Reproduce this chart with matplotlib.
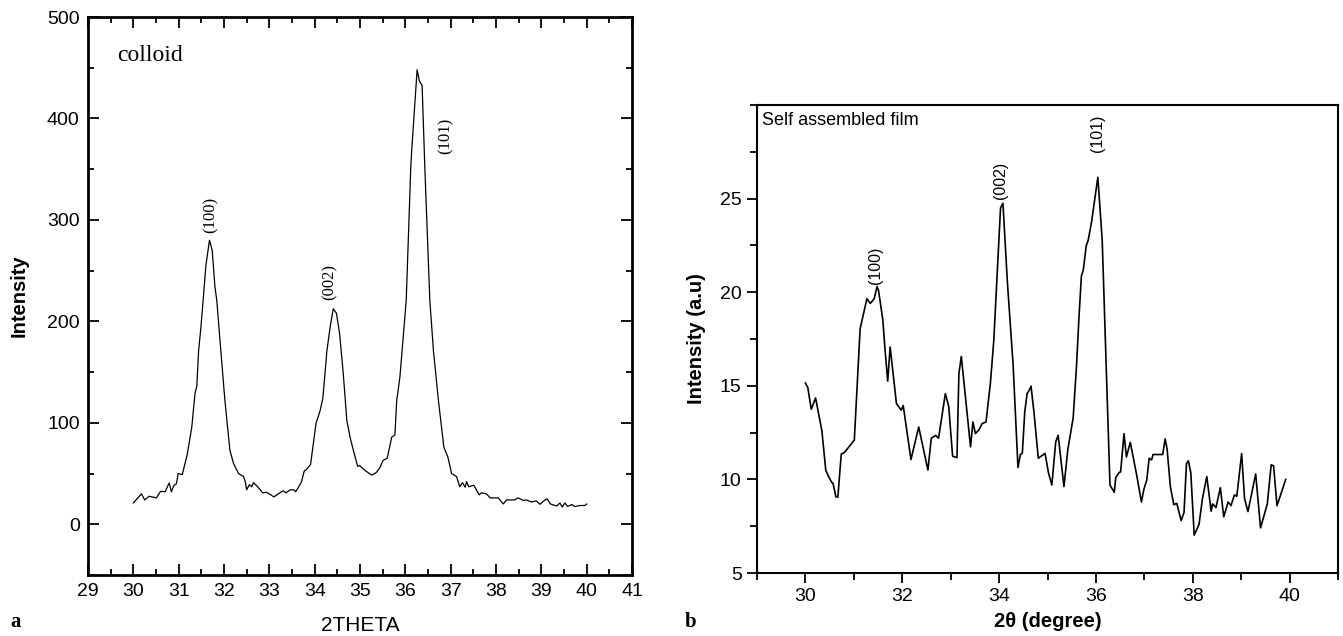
import matplotlib
matplotlib.use("Agg")
import matplotlib.pyplot as plt
from matplotlib.ticker import MultipleLocator

# ---------------- data: panel a (colloid) ----------------
colloid_x = [30.00, 30.18, 30.25, 30.35, 30.51, 30.60, 30.70, 30.79, 30.84, 30.89,
             30.95, 30.99, 31.08, 31.19, 31.29, 31.36, 31.40, 31.44, 31.49, 31.54,
             31.60, 31.68, 31.74, 31.80, 31.84, 31.93, 32.02, 32.13, 32.21, 32.32,
             32.43, 32.47, 32.50, 32.56, 32.61, 32.65, 32.72, 32.80, 32.85, 32.94,
             33.00, 33.10, 33.20, 33.30, 33.37, 33.46, 33.54, 33.58, 33.65, 33.71,
             33.77, 33.82, 33.91, 33.96, 34.03, 34.12, 34.18, 34.27, 34.34, 34.41,
             34.48, 34.55, 34.63, 34.71, 34.78, 34.87, 34.95, 34.99, 35.11, 35.26,
             35.36, 35.44, 35.51, 35.60, 35.70, 35.77, 35.81, 35.88, 35.96, 36.02,
             36.12, 36.14, 36.26, 36.31, 36.37, 36.43, 36.54, 36.62, 36.73, 36.85,
             36.94, 37.02, 37.13, 37.20, 37.26, 37.32, 37.35, 37.40, 37.51, 37.63,
             37.68, 37.79, 37.87, 38.05, 38.16, 38.23, 38.41, 38.49, 38.60, 38.67,
             38.78, 38.89, 38.97, 39.08, 39.13, 39.20, 39.34, 39.41, 39.46, 39.52,
             39.58, 39.67, 39.74, 39.85, 39.96, 40.00]
colloid_y = [21, 30, 24, 27.6, 26, 32.5, 32, 40.7, 32, 38,
             40, 50, 49, 69, 96, 129, 136, 171, 194, 221,
             255, 280, 270, 234, 221, 171, 122, 73, 60, 50,
             47, 42, 34, 39, 37, 41, 38, 34, 31, 31.5,
             30, 27, 30, 33, 31, 34, 34, 32, 37, 42,
             52.5, 54, 59, 76, 99.5, 112, 124, 171, 194, 212.5,
             208, 188, 149, 102, 86, 70, 57, 58, 53, 48.5,
             51, 56, 63, 65, 86, 88, 122, 145, 188, 221,
             352, 368, 448, 437, 432.5, 352, 221, 171, 122, 76,
             66, 50, 47, 37, 41, 36.5, 42, 37, 38.5, 29,
             31, 30, 26, 26, 20, 24, 24, 26, 23.5, 24,
             22, 23, 19.7, 24, 25, 20, 18, 21, 17, 21,
             17.5, 19.5, 17.5, 18.5, 18.5, 20]

colloid_labels = ["(100)", "(002)", "(101)"]
colloid_label_x = [31.70, 34.34, 36.88]
colloid_label_y = [287, 221, 365]

# ---------------- data: panel b (self assembled film) ----------------
film_x = [30.00, 30.05, 30.12, 30.21, 30.34, 30.42, 30.47, 30.54, 30.57, 30.63,
          30.67, 30.74, 30.81, 31.01, 31.13, 31.27, 31.34, 31.42, 31.48, 31.51,
          31.60, 31.64, 31.70, 31.75, 31.88, 31.98, 32.02, 32.18, 32.34, 32.53,
          32.60, 32.69, 32.75, 32.89, 32.96, 33.04, 33.13, 33.17, 33.22, 33.41,
          33.46, 33.51, 33.58, 33.65, 33.73, 33.82, 33.89, 34.03, 34.08, 34.17,
          34.29, 34.39, 34.44, 34.48, 34.53, 34.58, 34.61, 34.66, 34.72, 34.81,
          34.95, 35.02, 35.09, 35.17, 35.22, 35.34, 35.42, 35.53, 35.60, 35.65,
          35.70, 35.74, 35.80, 35.84, 35.91, 36.04, 36.13, 36.29, 36.38, 36.41,
          36.48, 36.51, 36.58, 36.63, 36.71, 36.84, 36.94, 36.99, 37.05, 37.10,
          37.15, 37.18, 37.38, 37.43, 37.47, 37.54, 37.61, 37.67, 37.76, 37.82,
          37.87, 37.91, 37.96, 38.03, 38.13, 38.20, 38.29, 38.38, 38.41, 38.48,
          38.57, 38.64, 38.73, 38.79, 38.86, 38.91, 39.01, 39.07, 39.14, 39.30,
          39.40, 39.54, 39.62, 39.67, 39.74, 39.92]
film_y = [15.15, 14.9, 13.75, 14.35, 12.6, 10.5, 10.2, 9.85, 9.8, 9.07,
          9.05, 11.35, 11.45, 12.1, 18.05, 19.65, 19.4, 19.65, 20.3, 20.1,
          18.5, 17.07, 15.25, 17.07, 14.05, 13.7, 13.95, 11.06, 12.8, 10.5,
          12.2, 12.35, 12.2, 14.58, 13.9, 11.24, 11.16, 15.65, 16.57, 11.74,
          13.07, 12.45, 12.63, 12.98, 13.07, 15.12, 17.4, 24.5, 24.75, 20.6,
          16.1, 10.64, 11.33, 11.4, 13.6, 14.6, 14.7, 14.98, 13.6, 11.13,
          11.39, 10.35, 9.7, 12.0, 12.36, 9.62, 11.6, 13.28, 16.1, 18.66,
          20.86, 21.2, 22.48, 22.77, 23.75, 26.14, 22.78, 9.7, 9.31, 10.1,
          10.37, 10.4, 12.44, 11.2, 11.98, 10.26, 8.79, 9.47, 9.96, 11.13,
          11.04, 11.33, 11.33, 12.17, 11.62, 9.56, 8.65, 8.72, 7.8, 8.24,
          10.84, 11.0, 10.35, 7.02, 7.6, 8.97, 10.15, 8.3, 8.69, 8.5,
          9.56, 8.0, 8.79, 8.6, 9.17, 9.1, 11.38, 8.97, 8.28, 10.29,
          7.41, 8.69, 10.78, 10.72, 8.59, 10.0]

film_labels = ["(100)", "(002)", "(101)"]
film_label_x = [31.45, 34.03, 36.04]
film_label_y = [20.45, 25.0, 27.5]

# ---------------- figure ----------------
fig = plt.figure(figsize=(13.43, 6.36), dpi=100)
sans = "Liberation Sans"
serif = "Liberation Serif"

# ---- panel a ----
axa = fig.add_axes([88/1343, 1-575/636, (632-88)/1343, (575-17)/636])
axa.plot(colloid_x, colloid_y, color="black", lw=0.9)
axa.set_xlim(29, 41)
axa.set_ylim(-50, 500)
axa.xaxis.set_major_locator(MultipleLocator(1))
axa.xaxis.set_minor_locator(MultipleLocator(0.5))
axa.yaxis.set_major_locator(MultipleLocator(100))
axa.yaxis.set_minor_locator(MultipleLocator(50))
axa.tick_params(which="both", direction="in", top=True, right=True, width=1.3,
                labelsize=14, pad=6)
axa.tick_params(which="major", length=8)
axa.tick_params(which="minor", length=4)
for lab in axa.get_xticklabels() + axa.get_yticklabels():
    lab.set_fontfamily(sans)
for sp in axa.spines.values():
    sp.set_linewidth(2)
axa.set_xlabel("2THETA", fontsize=15, fontfamily=sans, labelpad=11)
axa.set_ylabel("Intensity", fontsize=14.5, fontweight="bold", fontfamily=sans, labelpad=13)
axa.text(29.64, 462, "colloid", fontsize=17, fontfamily=serif, va="center", ha="left")
for t, x, y in zip(colloid_labels, colloid_label_x, colloid_label_y):
    axa.text(x, y, t, rotation=90, fontsize=12, fontfamily=serif, ha="center", va="bottom")

# ---- panel b ----
axb = fig.add_axes([757/1343, 1-573/636, (1338-757)/1343, (573-105)/636])
axb.plot(film_x, film_y, color="black", lw=1.2)
axb.set_xlim(29, 41)
axb.set_ylim(5, 30)
axb.xaxis.set_major_locator(MultipleLocator(2))
axb.xaxis.set_minor_locator(MultipleLocator(1))
axb.yaxis.set_major_locator(MultipleLocator(5))
axb.yaxis.set_minor_locator(MultipleLocator(2.5))
axb.set_yticks([5, 10, 15, 20, 25])
axb.tick_params(which="both", direction="out", width=1.3, labelsize=14, pad=4)
axb.tick_params(which="major", length=7)
axb.tick_params(which="minor", length=5)
for lab in axb.get_xticklabels() + axb.get_yticklabels():
    lab.set_fontfamily(sans)
for sp in axb.spines.values():
    sp.set_linewidth(1.5)
axb.set_xlabel("2θ (degree)", fontsize=14.5, fontweight="bold", fontfamily=sans, labelpad=5)
axb.set_ylabel("Intensity (a.u)", fontsize=14.5, fontweight="bold", fontfamily=sans, labelpad=10)
axb.text(29.1, 29.6, "Self assembled film", fontsize=13, fontfamily=sans, va="top", ha="left")
for t, x, y in zip(film_labels, film_label_x, film_label_y):
    axb.text(x, y, t, rotation=90, fontsize=11.5, fontfamily=sans, ha="center", va="bottom")

fig.text(10/1343, 1-627/636, "a", fontsize=15, fontweight="bold", fontfamily=serif, ha="left", va="baseline")
fig.text(685/1343, 1-627/636, "b", fontsize=15, fontweight="bold", fontfamily=serif, ha="left", va="baseline")

fig.savefig("out.png", dpi=100)
